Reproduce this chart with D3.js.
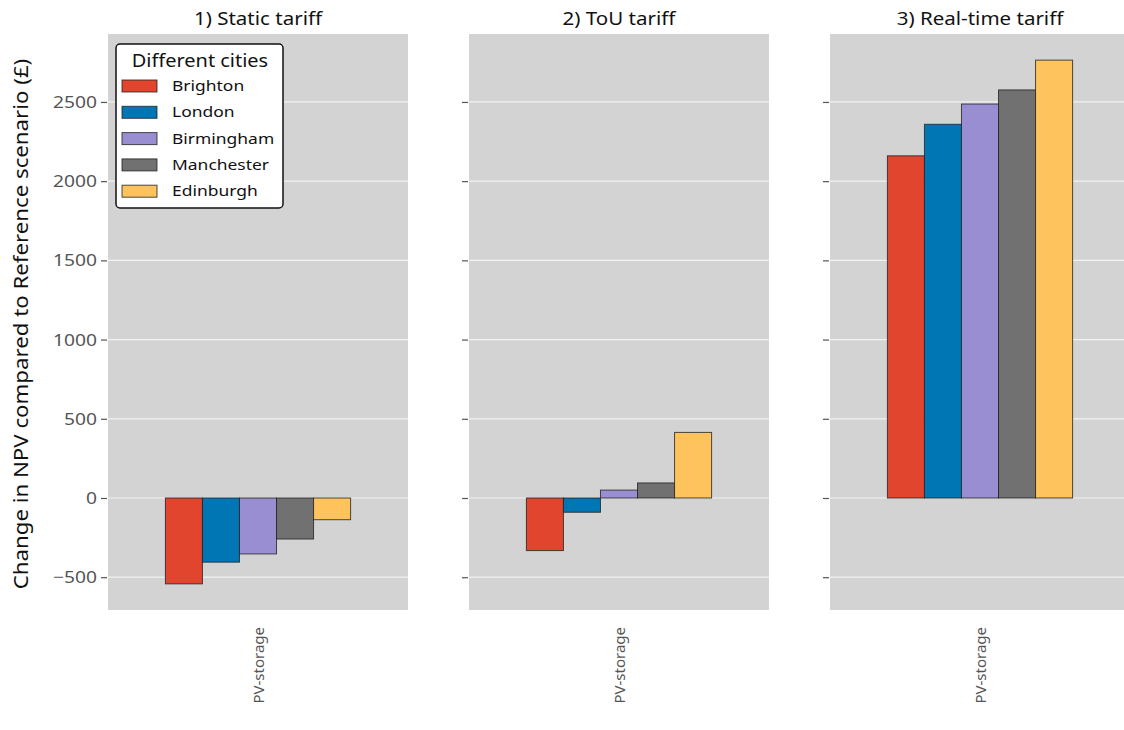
<!DOCTYPE html>
<html>
<head>
<meta charset="utf-8">
<script src="https://cdn.jsdelivr.net/npm/d3@7"></script>
<style>
  body { margin: 0; background: #fff; }
  svg { display: block; font-family: "Noto Sans", "Open Sans", sans-serif; }
</style>
</head>
<body>
<div id="chart"></div>
<script>
// data
const cities = ["Brighton", "London", "Birmingham", "Manchester", "Edinburgh"];
const cityColors = ["#E1452E", "#0176B5", "#9A8ED3", "#717171", "#FEC35C"];
const tariffs = ["1) Static tariff", "2) ToU tariff", "3) Real-time tariff"];
const category = ["PV-storage"];
const staticVals = [-542, -405, -353, -259, -137];
const touVals = [-332, -90, 50, 95, 414];
const realtimeVals = [2160, 2359, 2487, 2576, 2764];
const yTicks = [-500, 0, 500, 1000, 1500, 2000, 2500];

const panelValues = [staticVals, touVals, realtimeVals];

const width = 1124, height = 730;
const margin = { top: 34, bottom: 120, left: 108 };
const panelW = 300, gap = 61;
const innerHeight = height - margin.top - margin.bottom;

// the reference font is a bit wider than Noto Sans, widen text horizontally
const stretch = (sel, k) => sel.each(function () {
    const w = this.getComputedTextLength();
    d3.select(this).attr("textLength", w * k).attr("lengthAdjust", "spacingAndGlyphs");
});

const svg = d3.select("#chart")
    .append("svg")
    .attr("width", width)
    .attr("height", height);

const yScale = d3.scaleLinear()
    .domain([-707, 2929])
    .range([innerHeight, 0]);

const xScale = d3.scaleBand()
    .domain(category)
    .range([0, panelW])
    .paddingInner(0)
    .paddingOuter(0.31);

const cityScale = d3.scaleBand()
    .domain(cities)
    .range([0, xScale.bandwidth()]);

const color = d3.scaleOrdinal().domain(cities).range(cityColors);

tariffs.forEach((t, i) => {
    const g = svg.append("g")
        .attr("transform", `translate(${margin.left + i * (panelW + gap)}, ${margin.top})`);

    // background
    g.append("rect")
        .attr("width", Math.min(panelW, width - margin.left - i * (panelW + gap)))
        .attr("height", innerHeight)
        .attr("fill", "#D3D3D3");

    // grid
    g.selectAll(".grid")
        .data(yTicks)
        .join("line")
        .attr("x1", 0)
        .attr("x2", panelW)
        .attr("y1", d => yScale(d))
        .attr("y2", d => yScale(d))
        .attr("stroke", "#f2f2f2")
        .attr("stroke-width", 1.2);

    // y axis
    const leftAxis = d3.axisLeft(yScale)
        .tickValues(yTicks)
        .tickSize(6)
        .tickPadding(4)
        .tickFormat(d3.format("d"));
    const ax = g.append("g")
        .attr("transform", "translate(-1,0)")
        .call(leftAxis);
    ax.select(".domain").remove();
    ax.selectAll("line").attr("stroke", "#555").attr("stroke-width", 1.2);
    if (i === 0) {
        ax.selectAll("text")
            .attr("fill", "#555")
            .style("font-size", "17px")
            .style("font-family", "Noto Sans, sans-serif")
            .call(stretch, 1.13);
    } else {
        ax.selectAll("text").remove();
    }

    // bars
    const vals = panelValues[i];
    g.selectAll(".bar")
        .data(cities.map((c, k) => ({ city: c, value: vals[k] })))
        .join("rect")
        .attr("class", "bar")
        .attr("x", d => xScale(category[0]) + cityScale(d.city))
        .attr("y", d => yScale(Math.max(0, d.value)))
        .attr("width", cityScale.bandwidth())
        .attr("height", d => Math.abs(yScale(d.value) - yScale(0)))
        .attr("fill", d => color(d.city))
        .attr("stroke", "#222")
        .attr("stroke-opacity", 0.8)
        .attr("stroke-width", 1);

    // title
    g.append("text")
        .attr("x", panelW / 2)
        .attr("y", -9)
        .attr("text-anchor", "middle")
        .style("font-size", "18px")
        .attr("fill", "#111")
        .text(t)
        .call(stretch, 1.14);

    // x tick label
    g.append("text")
        .attr("transform", `translate(${xScale(category[0]) + xScale.bandwidth() / 2 + 6}, ${innerHeight + 17}) rotate(-90)`)
        .attr("text-anchor", "end")
        .style("font-size", "15px")
        .attr("fill", "#555")
        .text(category[0]);
});

// y-axis label
svg.append("text")
    .attr("transform", `translate(28, ${margin.top + innerHeight / 2 + 2}) rotate(-90)`)
    .attr("text-anchor", "middle")
    .style("font-size", "19.5px")
    .attr("fill", "#111")
    .text("Change in NPV compared to Reference scenario (£)")
    .call(stretch, 1.14);

// legend
const legend = svg.append("g").attr("transform", "translate(116, 44)");
legend.append("rect")
    .attr("width", 167)
    .attr("height", 164)
    .attr("rx", 4)
    .attr("fill", "#fff")
    .attr("stroke", "#111")
    .attr("stroke-width", 1.5);
legend.append("text")
    .attr("x", 84)
    .attr("y", 23)
    .attr("text-anchor", "middle")
    .style("font-size", "17.5px")
    .attr("fill", "#111")
    .text("Different cities")
    .call(stretch, 1.14);
const items = legend.selectAll(".item")
    .data(cities)
    .join("g")
    .attr("transform", (d, k) => `translate(6, ${36 + k * 26.3})`);
items.append("rect")
    .attr("width", 35)
    .attr("height", 12)
    .attr("fill", d => color(d))
    .attr("stroke", "#222")
    .attr("stroke-opacity", 0.8);
items.append("text")
    .attr("x", 50)
    .attr("y", 11)
    .style("font-size", "15.3px")
    .attr("fill", "#111")
    .text(d => d)
    .call(stretch, 1.14);
</script>
</body>
</html>
